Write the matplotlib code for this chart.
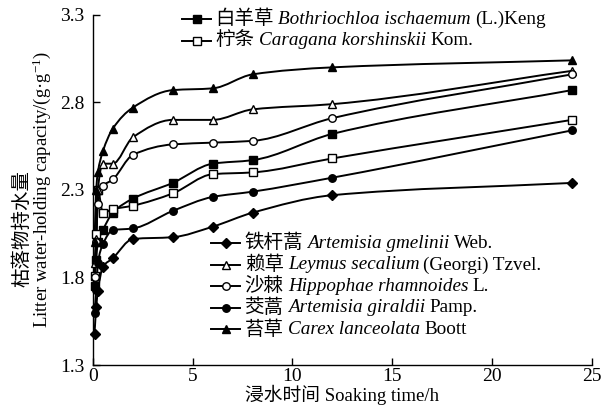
import numpy as np
import matplotlib
matplotlib.use("Agg")
import matplotlib.pyplot as plt
from matplotlib.path import Path
from matplotlib.patches import PathPatch
from matplotlib.lines import Line2D
from matplotlib.offsetbox import (TextArea, DrawingArea, HPacker, VPacker,
                                  AnchoredOffsetbox)

plt.rcParams['font.family'] = ['Liberation Serif', 'Noto Sans CJK SC']
plt.rcParams['mathtext.fontset'] = 'custom'
plt.rcParams['mathtext.rm'] = 'Liberation Serif'
plt.rcParams['mathtext.it'] = 'Liberation Serif:italic'

# soaking time (h)
hours = [0.083, 0.167, 0.25, 0.5, 1, 2, 4, 6, 8, 12, 24]

# litter water-holding capacity (g/g) for each species
bothriochloa = [1.75, 1.90, 2.00, 2.07, 2.17, 2.25, 2.34, 2.45, 2.47, 2.62, 2.87]
caragana     = [1.81, 2.05, 2.30, 2.17, 2.19, 2.21, 2.28, 2.39, 2.40, 2.48, 2.70]
gmelinii     = [1.48, 1.63, 1.72, 1.86, 1.91, 2.02, 2.03, 2.09, 2.17, 2.27, 2.34]
leymus       = [1.88, 2.02, 2.30, 2.45, 2.45, 2.60, 2.70, 2.70, 2.76, 2.79, 2.98]
hippophae    = [1.80, 2.00, 2.22, 2.32, 2.36, 2.50, 2.56, 2.57, 2.58, 2.71, 2.96]
giraldii     = [1.60, 1.73, 1.88, 1.99, 2.07, 2.08, 2.18, 2.26, 2.29, 2.37, 2.64]
carex        = [2.00, 2.30, 2.40, 2.52, 2.65, 2.77, 2.87, 2.88, 2.96, 3.00, 3.04]

legend_top = [
    ('白羊草', 'Bothriochloa ischaemum', '(L.)Keng', 's', 'black'),
    ('柠条', 'Caragana korshinskii', 'Kom.', 's', 'white'),
]
legend_bottom = [
    ('铁杆蒿', 'Artemisia gmelinii', 'Web.', 'D', 'black'),
    ('赖草', 'Leymus secalium', '(Georgi) Tzvel.', '^', 'white'),
    ('沙棘', 'Hippophae rhamnoides', 'L.', 'o', 'white'),
    ('茭蒿', 'Artemisia giraldii', 'Pamp.', 'o', 'black'),
    ('苔草', 'Carex lanceolata', 'Boott', '^', 'black'),
]

series = [
    (bothriochloa, 's', 'black'),
    (caragana, 's', 'white'),
    (gmelinii, 'D', 'black'),
    (leymus, '^', 'white'),
    (hippophae, 'o', 'white'),
    (giraldii, 'o', 'black'),
    (carex, '^', 'black'),
]

MSIZE = {'s': 5.2, 'D': 4.8, '^': 5.6, 'o': 5.4}


def smooth_path(x, y):
    # shape-preserving cubic through the points, drawn as bezier segments
    x = np.asarray(x, float)
    y = np.asarray(y, float)
    h = np.diff(x)
    d = np.diff(y) / h
    n = len(x)
    m = np.zeros(n)
    m[0] = d[0]
    m[-1] = d[-1]
    for k in range(1, n - 1):
        if d[k - 1] * d[k] > 0:
            w1 = 2 * h[k] + h[k - 1]
            w2 = h[k] + 2 * h[k - 1]
            m[k] = (w1 + w2) / (w1 / d[k - 1] + w2 / d[k])
    verts = [(x[0], y[0])]
    codes = [Path.MOVETO]
    for i in range(n - 1):
        verts.append((x[i] + h[i] / 3, y[i] + m[i] * h[i] / 3))
        verts.append((x[i + 1] - h[i] / 3, y[i + 1] - m[i + 1] * h[i] / 3))
        verts.append((x[i + 1], y[i + 1]))
        codes += [Path.CURVE4] * 3
    return Path(verts, codes)


fig = plt.figure(figsize=(6.07, 4.12), dpi=100)
ax = fig.add_axes([0.153, 0.114, 0.822, 0.850])

for vals, mk, face in series:
    ax.add_patch(PathPatch(smooth_path(hours, vals), fill=False,
                           edgecolor='black', lw=1.4, zorder=2))
    ax.plot(hours, vals, linestyle='none', marker=mk, markersize=MSIZE[mk],
            markerfacecolor=face, markeredgecolor='black', markeredgewidth=1.0,
            zorder=3, clip_on=False)

ax.set_xlim(0, 25)
ax.set_ylim(1.3, 3.3)
ax.set_xticks([0, 5, 10, 15, 20, 25])
ax.set_yticks([1.3, 1.8, 2.3, 2.8, 3.3])
ax.tick_params(direction='in', length=5, width=1, labelsize=14)
ax.tick_params(axis='x', pad=2)
ax.tick_params(axis='y', pad=6)
for side in ['top', 'right']:
    ax.spines[side].set_visible(False)
for side in ['left', 'bottom']:
    ax.spines[side].set_linewidth(1)

ax.set_xlabel('浸水时间 Soaking time/h', fontsize=13.5, labelpad=0)
fig.text(0.037, 0.445, '枯落物持水量', rotation=90, fontsize=14,
         ha='center', va='center')
fig.text(0.068, 0.54, r'Litter water-holding capacity/(g·g$^{-1}$)',
         rotation=90, fontsize=13.5, ha='center', va='center')


def legend_rows(entries):
    rows = []
    for cn, it, rm, mk, face in entries:
        da = DrawingArea(21, 10, 0, 0)
        da.add_artist(Line2D([0, 21], [5, 5], color='black', lw=1.4))
        da.add_artist(Line2D([10.5], [5], marker=mk, markersize=MSIZE[mk],
                             markerfacecolor=face, markeredgecolor='black',
                             markeredgewidth=1.0))
        parts = [da,
                 TextArea(cn, textprops=dict(fontsize=14)),
                 TextArea(it, textprops=dict(fontsize=13.8, fontstyle='italic')),
                 TextArea(rm, textprops=dict(fontsize=13.8))]
        rows.append(HPacker(children=parts, align='center', pad=0, sep=3))
    return VPacker(children=rows, align='left', pad=0, sep=2.3)


top_box = AnchoredOffsetbox(loc='upper left', child=legend_rows(legend_top),
                            bbox_to_anchor=(0.300, 0.976),
                            bbox_transform=fig.transFigure,
                            frameon=False, pad=0, borderpad=0)
fig.add_artist(top_box)

bottom_box = AnchoredOffsetbox(loc='upper left', child=legend_rows(legend_bottom),
                               bbox_to_anchor=(0.348, 0.432),
                               bbox_transform=fig.transFigure,
                               frameon=False, pad=0, borderpad=0)
fig.add_artist(bottom_box)

plt.savefig('out.png', dpi=100)
